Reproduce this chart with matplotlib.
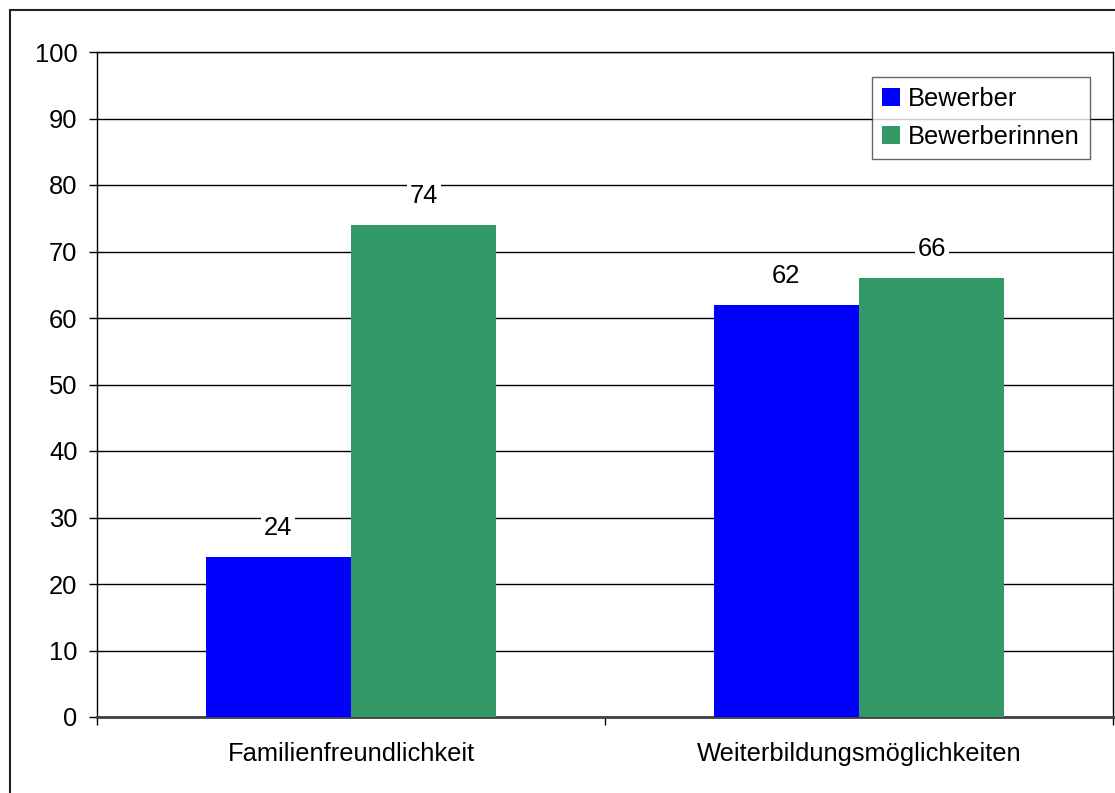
import numpy as np
import matplotlib
matplotlib.use('Agg')
from matplotlib import pyplot as plt
from matplotlib.patches import Rectangle

categories = ['Familienfreundlichkeit', 'Weiterbildungsmöglichkeiten']
series_names = ['Bewerber', 'Bewerberinnen']
bewerber = [24, 62]
bewerberinnen = [74, 66]
colors = ['#0000FF', '#339966']
yticks = np.arange(0, 101, 10)

plt.rcParams['font.family'] = ['Liberation Sans', 'DejaVu Sans']
plt.rcParams['font.size'] = 18.4

fig = plt.figure(figsize=(11.15, 7.93), dpi=100)
# outer chart frame (runs off the right/bottom edge like the source)
fig.patches.append(Rectangle((10 / 1115, -0.1), 1.2, 1 - 10 / 793 + 0.1,
                             transform=fig.transFigure, fill=False,
                             edgecolor='#222222', linewidth=1.5))

ax = fig.add_axes([97 / 1115, 1 - 717 / 793, (1113 - 97) / 1115, (717 - 52) / 793])

x = np.arange(len(categories))
w = 1 / 3.5
values = [bewerber, bewerberinnen]
for i, (name, vals) in enumerate(zip(series_names, values)):
    pos = x + (i - 0.5) * w
    ax.bar(pos, vals, width=w, color=colors[i], label=name, zorder=3)
    for p, v in zip(pos, vals):
        ax.annotate(str(v), (p, v), xytext=(0, 21), textcoords='offset points',
                    ha='center', va='center', zorder=4,
                    bbox=dict(facecolor='white', edgecolor='none', pad=2))

ax.set_xlim(-0.5, 1.5)
ax.set_ylim(0, 100)
ax.set_yticks(yticks)
ax.yaxis.grid(True, color='black', linewidth=1, zorder=0)
ax.tick_params(axis='y', direction='out', length=6, width=1, pad=8)

ax.set_xticks([-0.5, 0.5, 1.5])
ax.set_xticklabels([])
ax.set_xticks(x, minor=True)
ax.set_xticklabels(categories, minor=True)
ax.tick_params(axis='x', which='major', direction='out', length=6, width=1)
ax.tick_params(axis='x', which='minor', length=0, pad=18)

for s in ax.spines.values():
    s.set_color('black')
    s.set_linewidth(1)
ax.spines['bottom'].set_color('#404040')
ax.spines['bottom'].set_linewidth(2)

leg = ax.legend(loc='upper right', bbox_to_anchor=(0.977, 0.963),
                frameon=True, fancybox=False, handlelength=0.7, handleheight=0.7,
                handletextpad=0.3, borderpad=0.4, labelspacing=0.55, borderaxespad=0)
leg.get_frame().set_edgecolor('#404040')
leg.get_frame().set_linewidth(1)

fig.savefig('out.png', dpi=100)
